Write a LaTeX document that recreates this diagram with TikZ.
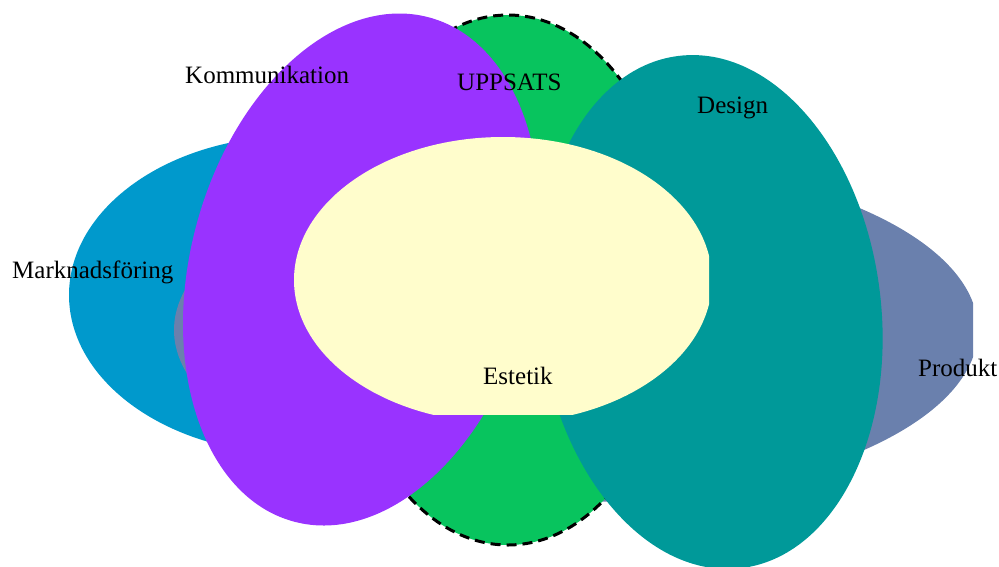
\documentclass[tikz,border=0pt]{standalone}
\usepackage{fontspec}
\setmainfont{Liberation Serif}
\definecolor{mktblue}{HTML}{0099CC}
\definecolor{prodgray}{HTML}{6A80AD}
\definecolor{uppgreen}{HTML}{08C45E}
\definecolor{kommpurple}{HTML}{9933FF}
\definecolor{designteal}{HTML}{009999}
\definecolor{estyellow}{HTML}{FFFDCC}
\begin{document}
\begin{tikzpicture}[x=1pt,y=-1pt,
  lbl/.style={font=\fontsize{25}{30}\selectfont, inner sep=0pt, anchor=base west, text=black}]
\useasboundingbox (0,0) rectangle (999,566);

% Marknadsföring
\fill[mktblue] (295,295) ellipse [x radius=226pt, y radius=159pt];

% Produkt (cut at the right)
\begin{scope}
  \clip (0,0) rectangle (973,566);
  \fill[prodgray] (576,330) ellipse [x radius=402pt, y radius=172pt];
\end{scope}

% UPPSATS with dashed outline
\filldraw[fill=uppgreen, draw=black, line width=3pt, dash pattern=on 10pt off 6pt]
  (508,280) ellipse [x radius=172pt, y radius=265pt];

% Kommunikation
\fill[kommpurple, rotate around={-15:(361.5,269.5)}]
  (361.5,269.5) ellipse [x radius=171pt, y radius=261pt];

% Design
\fill[designteal, rotate around={7:(710,312)}]
  (710,312) ellipse [x radius=171pt, y radius=258pt];

% Estetik (cut at right and bottom)
\begin{scope}
  \clip (0,0) rectangle (709,414);
  \fill[estyellow] (503,280) ellipse [x radius=209pt, y radius=143pt];
\end{scope}

% labels
\node[lbl] (komm) at (185,83) {Kommunikation};
\node[lbl] (upp) at (457,90) {UPPSATS};
\node[lbl] (des) at (697,113) {Design};
\node[lbl] (mkt) at (12,278) {Marknadsföring};
\node[lbl] (prod) at (918,376) {Produkt};
\node[lbl] (est) at (483,384) {Estetik};
\end{tikzpicture}
\end{document}
